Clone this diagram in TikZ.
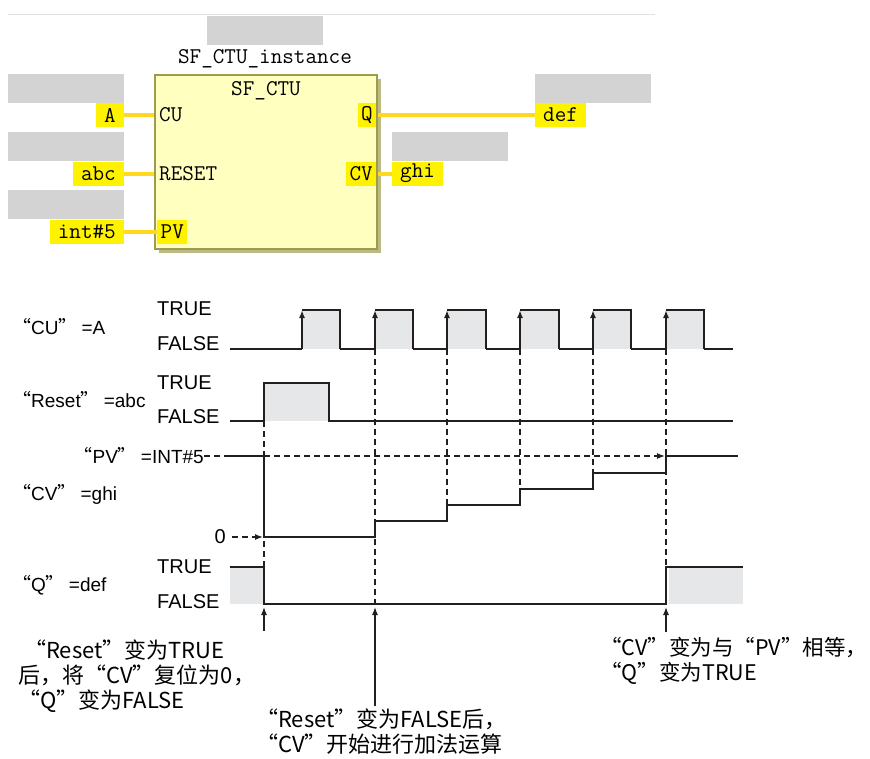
\documentclass[tikz,border=0pt]{standalone}
\usepackage{fontspec}
\setmainfont{Liberation Sans}
\newfontfamily\cjk{Noto Sans CJK SC}
\usetikzlibrary{arrows.meta,shadows,positioning}
\definecolor{sigline}{HTML}{231F20}
\definecolor{pulsegray}{HTML}{E6E7E8}
\definecolor{blockfill}{HTML}{FFFFC0}
\definecolor{blockedge}{HTML}{9C9C4C}
\definecolor{wireyel}{HTML}{FFD81F}
\definecolor{hidegray}{HTML}{D3D3D3}
\newcommand{\quo}[1]{{\cjk “}#1{\cjk ”}\hspace{4pt}}

\begin{document}
\begin{tikzpicture}[x=1pt,y=-1pt,
  plc/.style={font=\ttfamily\fontsize{22.5}{23}\selectfont, inner sep=2pt},
  varbox/.style={plc, fill=yellow, minimum height=24pt, inner xsep=8pt},
  pinbox/.style={varbox, inner xsep=3.5pt},
  hidden/.style={fill=hidegray, minimum width=116pt, minimum height=29pt, inner sep=0pt},
  wire/.style={wireyel, line width=4pt},
  sig/.style={sigline, line width=1.6pt},
  guide/.style={sigline, line width=1.3pt, dash pattern=on 6pt off 4pt},
  lvl/.style={font=\fontsize{20}{22}\selectfont, inner sep=0pt, anchor=west},
  sname/.style={font=\fontsize{19}{22}\selectfont, inner sep=0pt, anchor=west},
  note/.style={font=\cjk\fontsize{22}{25}\selectfont, align=left, inner sep=0pt, anchor=north west},
  tip/.style={-{Latex[length=8pt,width=6pt]}}
]
\fill[white] (0,0) rectangle (870,758);
\useasboundingbox (0,0) rectangle (870,758);

% function block
\draw[hidegray!70, line width=1pt] (8,14) -- (655,14);
\node[hidden] (hinst) at (265,30.5) {};
\node[plc] (inst) at (265,59) {SF\_CTU\_instance};

\node[hidden] (ha) at (66,88.5) {};
\node[hidden] (habc) at (66,146.5) {};
\node[hidden] (hint) at (66,204.5) {};
\node[hidden] (hdef) at (593,88.5) {};
\node[hidden] (hghi) at (449.5,146.5) {};

\node[varbox, anchor=east] (va) at (124,115) {A};
\node[varbox, anchor=east] (vabc) at (124,173.5) {abc};
\node[varbox, anchor=east] (vint) at (124,231.5) {int\#5};
\node[varbox, anchor=west] (vdef) at (535,115) {def};
\node[varbox, anchor=west] (vghi) at (392,173.5) {ghi};

\node[draw=blockedge, line width=1.5pt, fill=blockfill,
      minimum width=222pt, minimum height=174pt,
      drop shadow={shadow xshift=4pt, shadow yshift=-4pt, fill=blockedge!70, opacity=1}]
      (fb) at (266,162) {};
\node[plc] (fbname) at (266,91) {SF\_CTU};
\node[plc, anchor=west] (pcu) at (157,115) {CU};
\node[plc, anchor=west] (preset) at (157,173.5) {RESET};
\node[pinbox, anchor=west] (ppv) at (157,231.5) {PV};
\node[pinbox, anchor=east] (pq) at (376.5,115) {Q};
\node[pinbox, anchor=east] (pcv) at (376.5,173.5) {CV};

\draw[wire] (va.east) -- (va.east -| fb.west);
\draw[wire] (vabc.east) -- (vabc.east -| fb.west);
\draw[wire] (vint.east) -- (ppv.west);
\draw[wire] (fb.east |- pq.east) -- (vdef.west);
\draw[wire] (fb.east |- pcv.east) -- (vghi.west);

% timing chart
\node[sname] (lcu) at (12,327) {\quo{CU}=A};
\node[lvl] (cutrue) at (157,309) {TRUE};
\node[lvl] (cufalse) at (157,344) {FALSE};
\node[sname] (lreset) at (12,400) {\quo{Reset}=abc};
\node[lvl] (rstrue) at (157,383) {TRUE};
\node[lvl] (rsfalse) at (157,417) {FALSE};
\node[sname, anchor=east] (lpv) at (204,456) {\quo{PV}=INT\#5};
\node[sname] (lcv) at (12,494) {\quo{CV}=ghi};
\node[lvl, anchor=east] (zero) at (226,537) {0};
\node[sname] (lq) at (12,585) {\quo{Q}=def};
\node[lvl] (qtrue) at (157,567) {TRUE};
\node[lvl] (qfalse) at (157,602) {FALSE};

\fill[pulsegray] (264,383) rectangle (329,421);
\fill[pulsegray] (230,567) rectangle (264,604);
\fill[pulsegray] (669,567) rectangle (743,604);

\foreach \x/\yb in {375/604, 447/505, 520/489, 593/473}
  \draw[guide] (\x,349) -- (\x,\yb);
\draw[guide] (264,421) -- (264,604);
\draw[guide] (666,349) -- (666,567);
\coordinate (pvhit) at (665,456);
\coordinate (cvzero) at (263,537);
\draw[guide, tip] (lpv.east) -- (pvhit);
\draw[guide, tip, shorten <=6pt] (zero.east) -- (cvzero);

\foreach \r/\f [remember=\f as \lastf (initially 230)] in
    {302/340, 375/413, 447/486, 520/559, 593/631, 666/704} {
  \fill[pulsegray] (\r,310) rectangle (\f,349);
  \draw[sig] (\lastf,349) -- (\r,349);
  \draw[sig, tip] (\r,349) -- (\r,310);
  \draw[sig] (\r,310) -- (\f,310) -- (\f,349);
}
\draw[sig] (704,349) -- (733,349);

\draw[sig] (230,421) -- (264,421) -- (264,383) -- (329,383) -- (329,421) -- (733,421);
\draw[sig] (230,456) -- (264,456) -- (264,537) -- (375,537) -- (375,521)
  -- (447,521) -- (447,505) -- (520,505) -- (520,489) -- (593,489)
  -- (593,473) -- (666,473) -- (666,456) -- (738,456);
\draw[sig] (230,567) -- (264,567) -- (264,604) -- (666,604) -- (666,567) -- (743,567);

% notes
\node[note] (nrst) at (18,640) {\hspace*{6pt}“Reset”变为TRUE\\后，将“CV”复位为0，\\“Q”变为FALSE};
\node[note] (ncnt) at (256,709) {“Reset”变为FALSE后，\\“CV”开始进行加法运算};
\node[note, font=\cjk\fontsize{21.5}{25}\selectfont] (nset) at (600,637) {“CV”变为与“PV”相等，\\“Q”变为TRUE};

\coordinate (qrst) at (264,607);
\coordinate (qcnt) at (375,607);
\coordinate (qset) at (666,607);
\coordinate (frst) at (264,631);
\coordinate (fset) at (666,632);
\draw[sig, line width=1.2pt, tip] (frst) -- (qrst);
\draw[sig, line width=1.2pt, tip] (ncnt.north -| qcnt) ++(0,-3) -- (qcnt);
\draw[sig, line width=1.2pt, tip] (fset) -- (qset);
\end{tikzpicture}
\end{document}
